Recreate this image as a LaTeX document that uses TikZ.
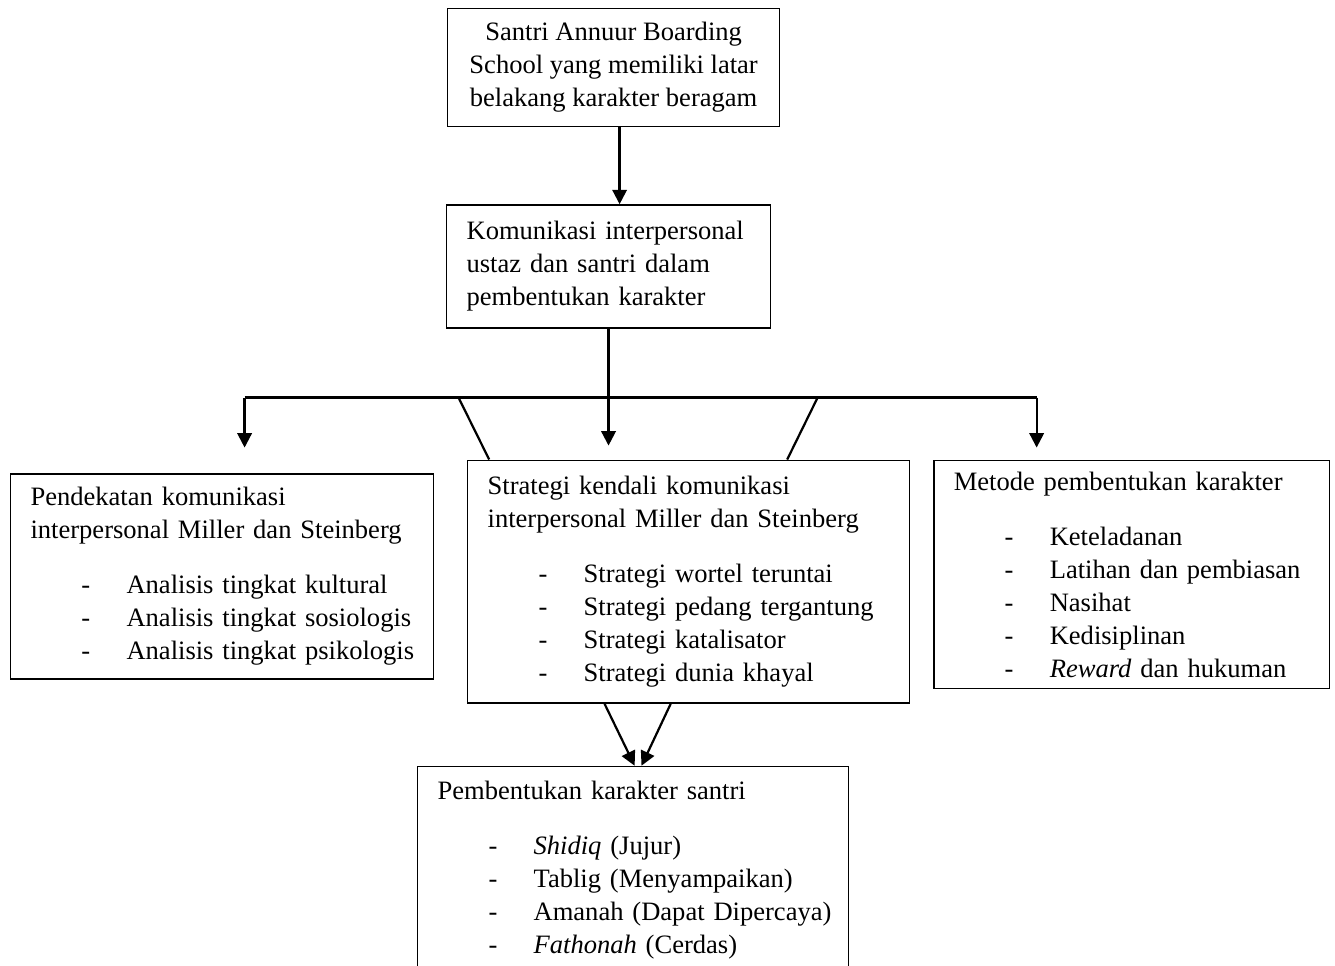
\documentclass[tikz,border=0pt]{standalone}
\usepackage{fontspec}
\setmainfont{Liberation Serif}
\usepackage{tikz}
\usetikzlibrary{arrows.meta,positioning,calc}

\newcommand{\listitem}[1]{\mbox{\hspace*{23pt}\makebox[20.4pt][l]{-}#1}}

\begin{document}
\begin{tikzpicture}[
      node distance=10pt and 10pt,
      box/.style={draw,line width=0.6pt,align=left,inner xsep=9pt,inner ysep=4pt,
                  font=\fontsize{12}{14.9}\selectfont},
      arr/.style={-{Triangle[length=6.5pt,width=6.5pt]},line width=1pt},
      wire/.style={line width=1pt}]
    \path[use as bounding box,clip] (0,0) rectangle (603.4pt,-436.2pt);

    \node[box,align=center,minimum width=150.1pt,minimum height=53.3pt,
          anchor=north west] (santri) at (202pt,-3.6pt)
      {Santri Annuur Boarding\\School yang memiliki latar\\belakang karakter beragam};
    \node[box,text width=128.3pt,minimum height=55.6pt,below=34.8pt of santri,
          xshift=-2.3pt] (komunikasi)
      {Komunikasi interpersonal\\ustaz dan santri dalam\\pembentukan karakter};
    \draw[arr] ([xshift=2.7pt]santri.south) -- ([xshift=2.7pt]santri.south |- komunikasi.north);

    \node[box,text width=181.7pt,minimum height=109.8pt,below=59.2pt of komunikasi,
          xshift=36.2pt] (strategi)
      {Strategi kendali komunikasi\\interpersonal Miller dan Steinberg\\[10pt]
       \listitem{Strategi wortel teruntai}\\
       \listitem{Strategi pedang tergantung}\\
       \listitem{Strategi katalisator}\\
       \listitem{Strategi dunia khayal}};
    \node[box,text width=173.1pt,minimum height=92.7pt,left=14.9pt of strategi,
          yshift=2.3pt] (pendekatan)
      {Pendekatan komunikasi\\interpersonal Miller dan Steinberg\\[10pt]
       \listitem{Analisis tingkat kultural}\\
       \listitem{Analisis tingkat sosiologis}\\
       \listitem{Analisis tingkat psikologis}};
    \node[box,text width=160.9pt,minimum height=103.1pt,right=10.4pt of strategi,
          yshift=3.2pt] (metode)
      {Metode pembentukan karakter\\[10pt]
       \listitem{Keteladanan}\\
       \listitem{Latihan dan pembiasan}\\
       \listitem{Nasihat}\\
       \listitem{Kedisiplinan}\\
       \listitem{\textit{Reward} dan hukuman}};
    \node[box,text width=176.7pt,minimum height=94pt,below=28pt of strategi,
          xshift=-25.1pt] (pembentukan)
      {Pembentukan karakter santri\\[10pt]
       \listitem{\textit{Shidiq} (Jujur)}\\
       \listitem{Tablig (Menyampaikan)}\\
       \listitem{Amanah (Dapat Dipercaya)}\\
       \listitem{\textit{Fathonah} (Cerdas)}};

    % branching under the second box
    \coordinate[below=31.2pt of komunikasi.south] (busC);
    \coordinate[left=164.5pt of busC] (busL);
    \coordinate[right=193.5pt of busC] (busR);
    \coordinate[left=67.8pt of busC] (slantL);
    \coordinate[right=94.5pt of busC] (slantR);
    \coordinate[below=22.6pt of busL] (tipL);
    \coordinate[below=21.7pt of busC] (tipC);
    \coordinate[below=22.6pt of busR] (tipR);
    \draw[wire] (komunikasi.south) -- (busC);
    \draw[wire] (busL) -- (busR);
    \draw[arr] (busL) -- (tipL);
    \draw[arr] (busC) -- (tipC);
    \draw[arr] (busR) -- (tipR);
    \draw[wire] (slantL) -- ($(strategi.north west)+(10pt,0)$);
    \draw[wire] (slantR) -- ($(strategi.north east)+(-55.6pt,0)$);

    \draw[arr] ($(strategi.south)+(-38pt,0)$) -- ($(pembentukan.north)+(0.7pt,0)$);
    \draw[arr] ($(strategi.south)+(-8.1pt,0)$) -- ($(pembentukan.north)+(3.8pt,0)$);
  \end{tikzpicture}
\end{document}
